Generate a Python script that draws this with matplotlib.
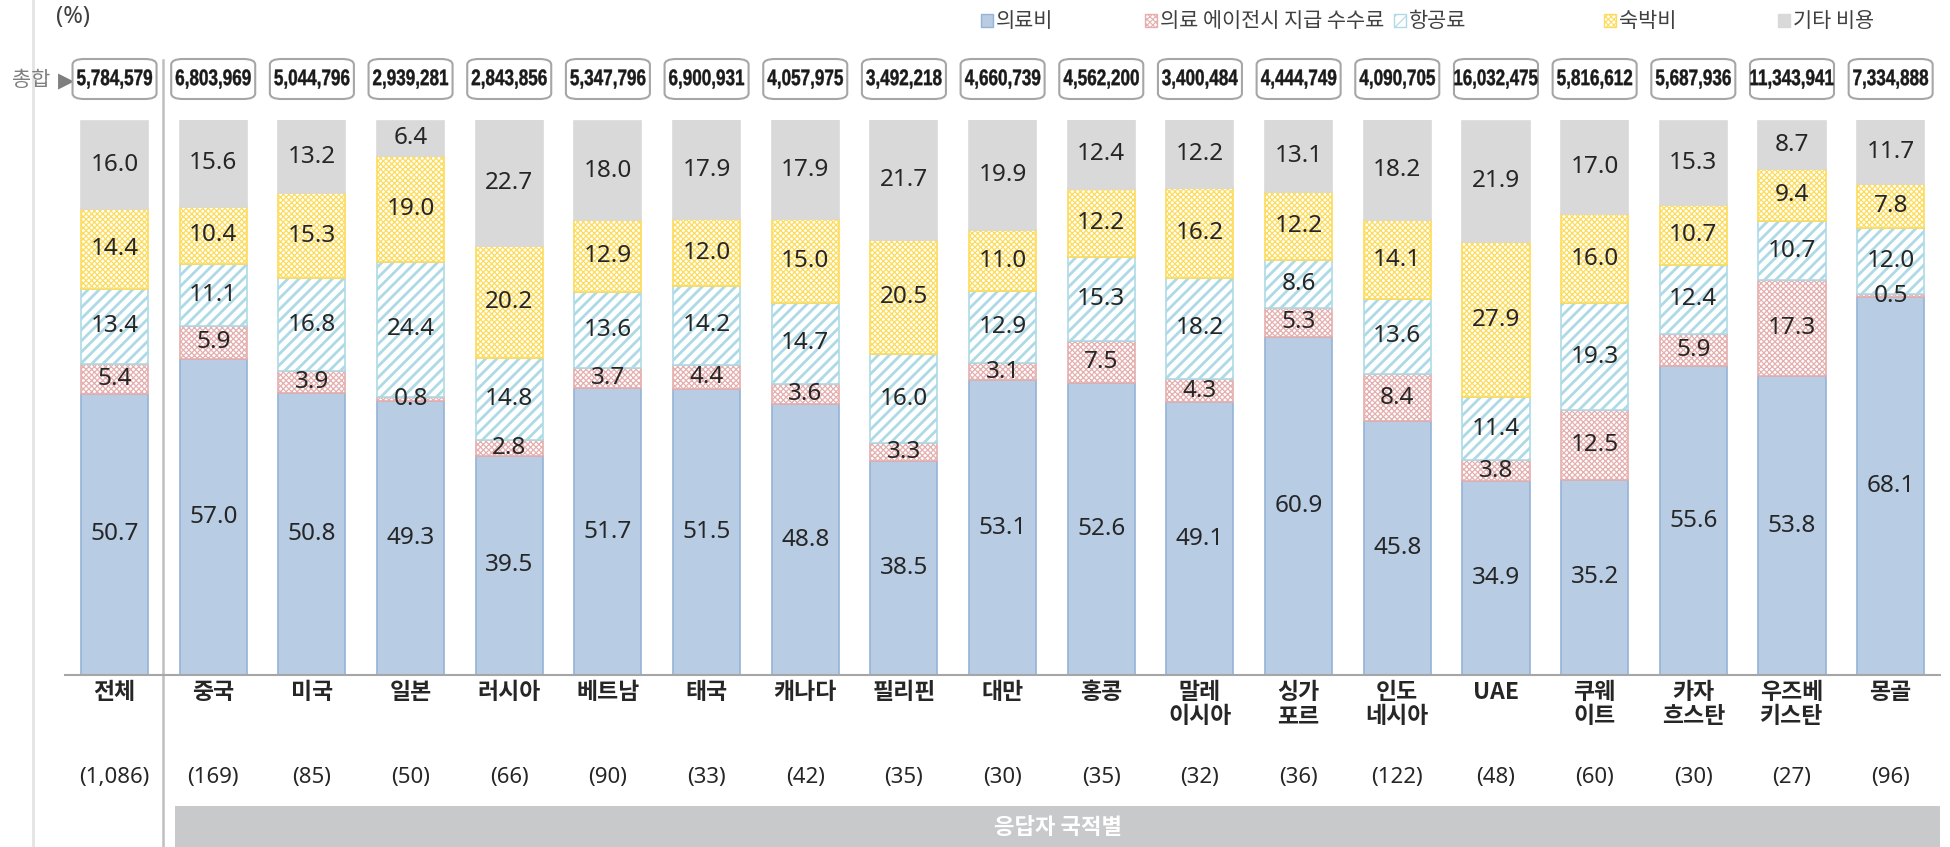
import matplotlib
matplotlib.use('Agg')
import matplotlib.pyplot as plt
from matplotlib.patches import Rectangle, FancyBboxPatch, PathPatch
from matplotlib.textpath import TextPath
from matplotlib.font_manager import FontProperties
import matplotlib.transforms as mtransforms
import numpy as np

plt.rcParams['font.family'] = ['Noto Sans CJK KR', 'DejaVu Sans']

# ---------------- data ----------------
categories = ['전체', '중국', '미국', '일본', '러시아', '베트남', '태국', '캐나다', '필리핀',
              '대만', '홍콩', '말레\n이시아', '싱가\n포르', '인도\n네시아', 'UAE', '쿠웨\n이트',
              '카자\n흐스탄', '우즈베\n키스탄', '몽골']
counts = ['1,086', '169', '85', '50', '66', '90', '33', '42', '35', '30', '35', '32', '36',
          '122', '48', '60', '30', '27', '96']
totals = ['5,784,579', '6,803,969', '5,044,796', '2,939,281', '2,843,856', '5,347,796',
          '6,900,931', '4,057,975', '3,492,218', '4,660,739', '4,562,200', '3,400,484',
          '4,444,749', '4,090,705', '16,032,475', '5,816,612', '5,687,936', '11,343,941',
          '7,334,888']
medical = [50.7, 57.0, 50.8, 49.3, 39.5, 51.7, 51.5, 48.8, 38.5, 53.1, 52.6, 49.1, 60.9,
           45.8, 34.9, 35.2, 55.6, 53.8, 68.1]
agency = [5.4, 5.9, 3.9, 0.8, 2.8, 3.7, 4.4, 3.6, 3.3, 3.1, 7.5, 4.3, 5.3, 8.4, 3.8, 12.5,
          5.9, 17.3, 0.5]
airfare = [13.4, 11.1, 16.8, 24.4, 14.8, 13.6, 14.2, 14.7, 16.0, 12.9, 15.3, 18.2, 8.6,
           13.6, 11.4, 19.3, 12.4, 10.7, 12.0]
lodging = [14.4, 10.4, 15.3, 19.0, 20.2, 12.9, 12.0, 15.0, 20.5, 11.0, 12.2, 16.2, 12.2,
           14.1, 27.9, 16.0, 10.7, 9.4, 7.8]
other = [16.0, 15.6, 13.2, 6.4, 22.7, 18.0, 17.9, 17.9, 21.7, 19.9, 12.4, 12.2, 13.1, 18.2,
         21.9, 17.0, 15.3, 8.7, 11.7]
series_names = ['의료비', '의료 에이전시 지급 수수료', '항공료', '숙박비', '기타 비용']
series = [medical, agency, airfare, lodging, other]
group_label = '응답자 국적별'
total_label = '총합'
unit_label = '(%)'

# ---------------- styles ----------------
styles = [
    dict(fc='#B8CCE4', ec='#95B3D7', hatch=None, hlw=1.0),
    dict(fc='white', ec='#E4AFAE', hatch='xxxxxx', hlw=0.9),
    dict(fc='white', ec='#AEDAE6', hatch='///', hlw=2.0),
    dict(fc='white', ec='#FDDC5C', hatch='xxxxxx', hlw=0.9),
    dict(fc='#D9D9D9', ec='#D9D9D9', hatch=None, hlw=1.0),
]

W, H = 1950, 847
fig = plt.figure(figsize=(19.5, 8.47), dpi=100)

# overlay axes in pixel coordinates for decorations
ov = fig.add_axes([0, 0, 1, 1], zorder=0)
ov.set_xlim(0, W)
ov.set_ylim(H, 0)
ov.axis('off')

ax = fig.add_axes([65 / W, (H - 675) / H, (1940 - 65) / W, 555 / H], zorder=1)
ax.patch.set_alpha(0)
x = np.arange(len(categories))
ax.set_xlim(-0.502, 18.5)
ax.set_ylim(0, 100)

bottom = np.zeros(len(categories))
for vals, st in zip(series, styles):
    plt.rcParams['hatch.linewidth'] = st['hlw']
    bars = ax.bar(x, vals, width=0.68, bottom=bottom, facecolor=st['fc'],
                  edgecolor=st['ec'], hatch=st['hatch'], linewidth=1.2, zorder=2)
    for b in bars:
        if hasattr(b, 'set_hatch_linewidth'):
            b.set_hatch_linewidth(st['hlw'])
    for xi, v, b0 in zip(x, vals, bottom):
        ax.text(xi, b0 + v / 2, f'{v:.1f}', ha='center', va='center', fontsize=17.5,
                color='#262626', family=['Noto Sans', 'DejaVu Sans'], zorder=3)
    bottom = bottom + np.array(vals)

for s in ['top', 'right', 'left']:
    ax.spines[s].set_visible(False)
ax.spines['bottom'].set_color('#A6A6A6')
ax.spines['bottom'].set_linewidth(1.5)
ax.set_yticks([])
ax.set_xticks(x)
ax.set_xticklabels(categories, fontsize=16.5, fontweight='bold', color='#262626',
                   linespacing=1.1)
ax.tick_params(axis='x', length=0, pad=4)

trans = mtransforms.blended_transform_factory(ax.transData, ax.transAxes)
for xi, c in zip(x, counts):
    ax.text(xi, (675 - 777) / 555, f'({c})', transform=trans, ha='center', va='center',
            fontsize=16, color='#262626', family=['Noto Sans', 'DejaVu Sans'])

# total boxes
bw = 84 / 98.67
bh = 40 / 555
by = (675 - 99) / 555
fp_tot = FontProperties(family='Liberation Sans', weight='bold')
for xi, t in zip(x, totals):
    box = FancyBboxPatch((xi - bw / 2, by), bw, bh, transform=trans,
                         boxstyle='round,pad=0,rounding_size=0.12', mutation_aspect=0.085,
                         facecolor='white', edgecolor='#A6A6A6', linewidth=1.5,
                         clip_on=False, zorder=2)
    ax.add_patch(box)
    tp = TextPath((0, 0), t, size=22.5, prop=fp_tot)
    ext = tp.get_extents()
    sx = min(0.76, 83 / ext.width)
    tr = (mtransforms.Affine2D()
          .translate(-(ext.x0 + ext.width / 2), -(ext.y0 + ext.height / 2))
          .scale(sx, 1.0)
          + mtransforms.ScaledTranslation(xi, by + bh / 2, trans))
    pp = PathPatch(tp, transform=tr, facecolor='#1a1a1a', edgecolor='#1a1a1a',
                   linewidth=0.3, clip_on=False, zorder=3)
    ax.add_artist(pp)

# decorations
ov.plot([33, 33], [0, H], color='#E3E3E3', lw=2, zorder=0)
ov.plot([163, 163], [60, H], color='#BFBFBF', lw=1.8, zorder=0)
ov.add_patch(Rectangle((175, 806), 1940 - 175, H - 806, facecolor='#C8C9CB',
                       edgecolor='none'))
ov.text((175 + 1940) / 2, 827, group_label, ha='center', va='center', fontsize=16,
        fontweight='bold', color='white')
ov.text(31, 80, total_label, ha='center', va='center', fontsize=15, color='#7F7F7F')
ov.text(66, 81, '▶', ha='center', va='center', fontsize=15, color='#7F7F7F',
        family=['DejaVu Sans'])
ov.text(73, 17, unit_label, ha='center', va='center', fontsize=17, color='#404040',
        family=['Noto Sans', 'DejaVu Sans'])

# legend
leg_x = [981, 1145, 1394, 1604, 1778]
for lx, name, st in zip(leg_x, series_names, styles):
    plt.rcParams['hatch.linewidth'] = 0.8
    r = Rectangle((lx, 14), 12, 13, facecolor=st['fc'] if st['hatch'] is None else 'white',
                  edgecolor=st['ec'], hatch=st['hatch'], linewidth=1)
    if hasattr(r, 'set_hatch_linewidth'):
        r.set_hatch_linewidth(0.8)
    ov.add_patch(r)
    ov.text(lx + 15, 21, name, ha='left', va='center', fontsize=15, color='#404040')

fig.savefig('out.png', dpi=100)
